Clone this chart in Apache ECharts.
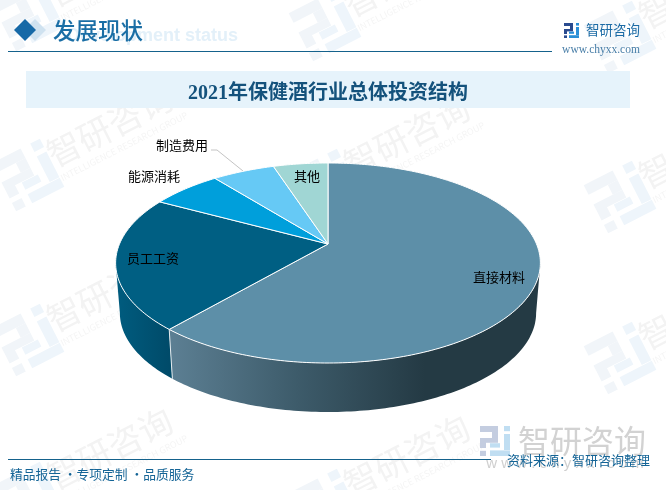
<!DOCTYPE html>
<html>
<head>
<meta charset="utf-8">
<style>html,body{margin:0;padding:0;background:#fff}#c{width:666px;height:490px}</style>
<script src="https://cdn.jsdelivr.net/npm/echarts@6/dist/echarts.min.js"></script>
</head>
<body>
<div id="c"></div>
<script>
const categories = ['直接材料', '员工工资', '能源消耗', '制造费用', '其他'];
const shares = [61.3, 21.6, 6.4, 5.7, 5.0];
const topColors = ['#5d8fa8', '#005f83', '#009fdb', '#66c9f5', '#a0d6d4'];

const chartTitle = '2021年保健酒行业总体投资结构';
const SANS = '"Noto Sans CJK SC","Noto Sans",sans-serif';
const SERIF = '"Liberation Serif","Noto Sans CJK SC",serif';

// perspective view of the pie disc
const APEX = [328, 244], PERSP = 0.19, RX = 208.5, RY = 96.4;
const DEPTH = {dy: 50, scale: 0.98};
const labelSpots = [[499, 277], [153, 258], [154, 176], [182, 145], [307, 176]];

const total = shares.reduce((a, b) => a + b, 0);
function startOf(i) { let s = 0; for (let k = 0; k < i; k++) s += shares[k]; return s / total; }
function project(f) {
  const t = f * 2 * Math.PI, u = Math.sin(t), v = -Math.cos(t), w = 1 - PERSP * v;
  return [APEX[0] + RX * u / w, APEX[1] + RY * v / w];
}
function projectLow(f) {
  const p = project(f);
  return [APEX[0] + (p[0] - APEX[0]) * DEPTH.scale, 263 + DEPTH.dy + (p[1] - 263) * 0.99];
}
function arc(fn, a, b) {
  const n = Math.max(2, Math.ceil((b - a) * 360)), out = [];
  for (let i = 0; i <= n; i++) out.push(fn(a + (b - a) * i / n));
  return out;
}
// the wall of the disc is only visible between its two silhouette angles
const FRONT_FROM = Math.acos(-PERSP) / (2 * Math.PI), FRONT_TO = 1 - FRONT_FROM;
const G = echarts.graphic.LinearGradient;
const sideFills = [
  new G(171, 0, 425, 0, [{offset: 0, color: '#5c7f93'}, {offset: 0.5, color: '#3d5b6a'}, {offset: 1, color: '#243a44'}], true),
  new G(116, 0, 175, 0, [{offset: 0, color: '#005c7f'}, {offset: 1, color: '#004967'}], true),
  '#0088bb', '#55aad0', '#88b6b4'
];

function renderSide(params, api) {
  const i = params.dataIndex, a0 = startOf(i), b0 = a0 + api.value(0) / total;
  const a = Math.max(a0, FRONT_FROM), b = Math.min(b0, FRONT_TO);
  if (b <= a) return {type: 'group', children: []};
  const pts = arc(project, a, b).concat(arc(projectLow, a, b).reverse());
  const kids = [{type: 'polygon', shape: {points: pts}, style: {fill: sideFills[i]}}];
  if (i === 1) {
    const p = project(a), q = projectLow(a);
    kids.push({type: 'line', shape: {x1: p[0], y1: p[1], x2: q[0], y2: q[1]}, style: {stroke: '#e6ecef', lineWidth: 1}});
  }
  return {type: 'group', children: kids};
}
function renderTop(params, api) {
  const i = params.dataIndex, a = startOf(i), b = a + api.value(0) / total;
  const pts = [APEX].concat(arc(project, a, b));
  return {type: 'group', children: [
    {type: 'polygon', shape: {points: pts}, style: {fill: topColors[i], stroke: '#fff', lineWidth: 1, lineJoin: 'round'}},
    {type: 'text', z2: 10, style: {text: categories[i], x: labelSpots[i][0], y: labelSpots[i][1], align: 'center', verticalAlign: 'middle', fill: '#000', font: '13px ' + SANS}}
  ]};
}

// logo drawn on a 15-unit grid
function logo(x, y, s, dark, light) {
  const k = s / 15, r = (c, a, b, w, h) => ({type: 'rect', shape: {x: x + a * k, y: y + b * k, width: w * k, height: h * k}, style: {fill: c}});
  return [
    r(dark, 0, 0, 9, 3), r(dark, 6, 3, 3, 3), r(dark, 0, 6, 9, 2.4), r(dark, 0, 8, 3, 3), r(dark, 0, 12.4, 3, 2.6),
    r(light, 12, 0, 3, 2.6), r(light, 12, 4, 3, 8), r(light, 5, 12.2, 10, 2.8), r(light, 5, 8.6, 5, 2.2)
  ];
}
function watermark(cx, cy) {
  return {
    type: 'group', x: cx, y: cy, rotation: 0.47, z: 0, silent: true,
    children: logo(-27, -27, 54, '#f1f5f9', '#eef5fb').concat([
      {type: 'text', style: {text: '智研咨询', x: 27, y: -7, verticalAlign: 'middle', fill: '#f3f3f3', font: '34px ' + SANS}},
      {type: 'text', style: {text: 'INTELLIGENCE RESEARCH GROUP', x: 28, y: 18, verticalAlign: 'middle', fill: '#f5f5f5', font: '9px ' + SANS}}
    ])
  };
}
const wmSpots = [[28, 15], [28, 175], [28, 340], [28, 498], [325, 25], [325, 185], [325, 348], [325, 505], [620, 37], [620, 197], [620, 358]];

const decor = [
  ...wmSpots.map(p => watermark(p[0], p[1])),
  {type: 'polygon', shape: {points: [[35, 19], [46, 30], [35, 41], [24, 30]]}, style: {fill: '#cfe2f0'}},
  {type: 'polygon', shape: {points: [[25, 19], [36, 30], [25, 41], [14, 30]]}, style: {fill: '#1669a7'}},
  {type: 'text', style: {text: 'Development status', x: 238, y: 36, align: 'right', verticalAlign: 'middle', fill: '#e3f0f9', font: 'bold 18px "Liberation Sans",sans-serif'}},
  {type: 'text', style: {text: '发展现状', x: 53, y: 30, verticalAlign: 'middle', fill: '#1a6ea5', font: '500 22.5px ' + SANS}},
  {type: 'line', shape: {x1: 8, y1: 51.5, x2: 552, y2: 51.5}, style: {stroke: '#15628c', lineWidth: 1}},
  ...logo(564, 23, 15, '#2a4b8f', '#2a8fd6'),
  {type: 'text', style: {text: '智研咨询', x: 586, y: 30, verticalAlign: 'middle', fill: '#1c6ba5', font: '13.5px ' + SANS}},
  {type: 'text', style: {text: 'www.chyxx.com', x: 601, y: 50, align: 'center', verticalAlign: 'middle', fill: '#4a7fa8', font: '11.5px "Liberation Serif",serif'}},
  {type: 'rect', z: 0, shape: {x: 26, y: 71, width: 604, height: 37}, style: {fill: '#e6f3fb'}},
  {type: 'polyline', shape: {points: [[211, 150], [217, 150], [243, 171]]}, style: {stroke: '#c4c4c4', lineWidth: 1, fill: 'none'}},
  ...logo(480, 426, 30, '#c4cde0', '#c0def2'),
  {type: 'text', style: {text: '智研咨询', x: 518, y: 441, verticalAlign: 'middle', fill: '#d2d2d2', font: '32px ' + SANS}},
  {type: 'text', style: {text: 'w w w . c h y x x . c o m', x: 565, y: 464, align: 'center', verticalAlign: 'middle', fill: '#cfcfcf', font: '15px "Liberation Sans",sans-serif'}},
  {type: 'line', shape: {x1: 8, y1: 459.5, x2: 491, y2: 459.5}, style: {stroke: '#15628c', lineWidth: 1}},
  {type: 'text', style: {text: '精品报告 ·专项定制 ·品质服务', x: 10, y: 474, verticalAlign: 'middle', fill: '#146496', font: '12.75px ' + SANS}},
  {type: 'text', style: {text: '资料来源：智研咨询整理', x: 507, y: 460, verticalAlign: 'middle', fill: '#146496', font: '13px ' + SANS}}
];

const chart = echarts.init(document.getElementById('c'));
chart.setOption({
  animation: false,
  backgroundColor: '#fff',
  title: {
    text: chartTitle, left: 323, top: 79, textAlign: 'center',
    textStyle: {color: '#14527c', fontSize: 20, fontWeight: 'bold', fontFamily: SERIF}
  },
  graphic: {elements: decor},
  series: [
    {type: 'custom', coordinateSystem: 'none', z: 2, silent: true, renderItem: renderSide, data: shares},
    {type: 'custom', coordinateSystem: 'none', z: 3, silent: true, renderItem: renderTop, data: shares}
  ]
});
</script>
</body>
</html>
